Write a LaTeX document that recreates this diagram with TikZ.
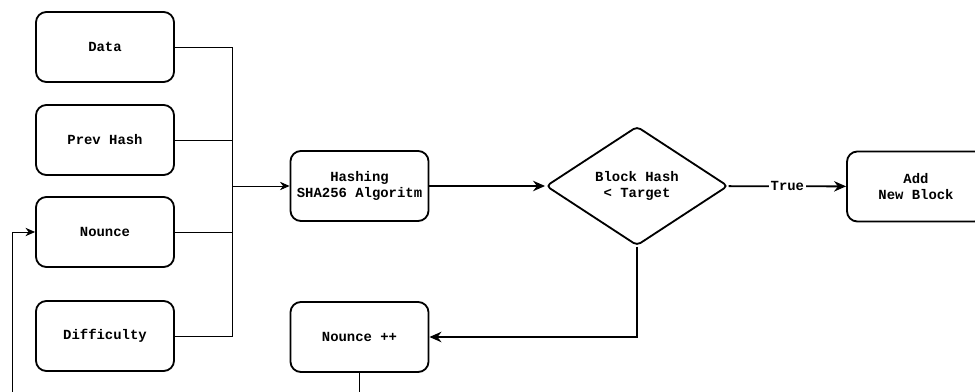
\documentclass[tikz,border=0pt]{standalone}
\usepackage{fontspec}
\setmonofont{Liberation Mono}
\usepackage{tikz}
\usetikzlibrary{arrows.meta,shapes.geometric}

\begin{document}
\begin{tikzpicture}[
  x=0.025cm, y=-0.025cm,
  box/.style={draw, rounded corners=2.6mm, align=center, minimum width=3.45cm, minimum height=1.75cm, line width=1.3pt, font=\fontsize{9.9}{11.5}\selectfont\ttfamily\bfseries},
  decision/.style={box, diamond, rounded corners=3pt, minimum width=4.55cm, minimum height=2.98cm, inner sep=0pt},
  arrow/.style={-{Stealth[length=3mm, width=2.6mm]}, line width=1.3pt},
  feed/.style={line width=0.6pt},
  feedarrow/.style={feed, -{Stealth[length=2.4mm, width=2.1mm]}}
]
\path[use as bounding box] (0,0) rectangle (975,392);
\clip (0,0) rectangle (975,392);

\node[box] (data) at (105,47) {Data};
\node[box] (prev) at (105,140) {Prev Hash};
\node[box] (nounce) at (105,232) {Nounce};
\node[box] (diff) at (105,336) {Difficulty};
\node[box] (hash) at (359.5,186) {Hashing\\SHA256 Algoritm};
\node[decision] (check) at (637,186) {Block Hash\\< Target};
\node[box] (add) at (916,186.5) {Add\\New Block};
\node[box] (inc) at (359.5,337) {Nounce ++};

\coordinate (bus) at (232,186);
\coordinate (back) at (12,420);

% inputs into the hash
\draw[feed] (data.east) -| (bus);
\draw[feed] (prev.east) -| (bus);
\draw[feed] (nounce.east) -| (bus);
\draw[feed] (diff.east) -| (bus);
\draw[feedarrow] (bus) -- (hash.west);

\draw[arrow] (hash) -- (check);
\draw[arrow] (check) -- node[fill=white, inner sep=1pt, font=\fontsize{9.9}{11.5}\selectfont\ttfamily\bfseries] {True} (add);
\draw[arrow] (check.south) |- (inc.east);

% retry with next nounce
\draw[feedarrow] (inc.south) |- (back) |- (nounce.west);
\end{tikzpicture}
\end{document}
